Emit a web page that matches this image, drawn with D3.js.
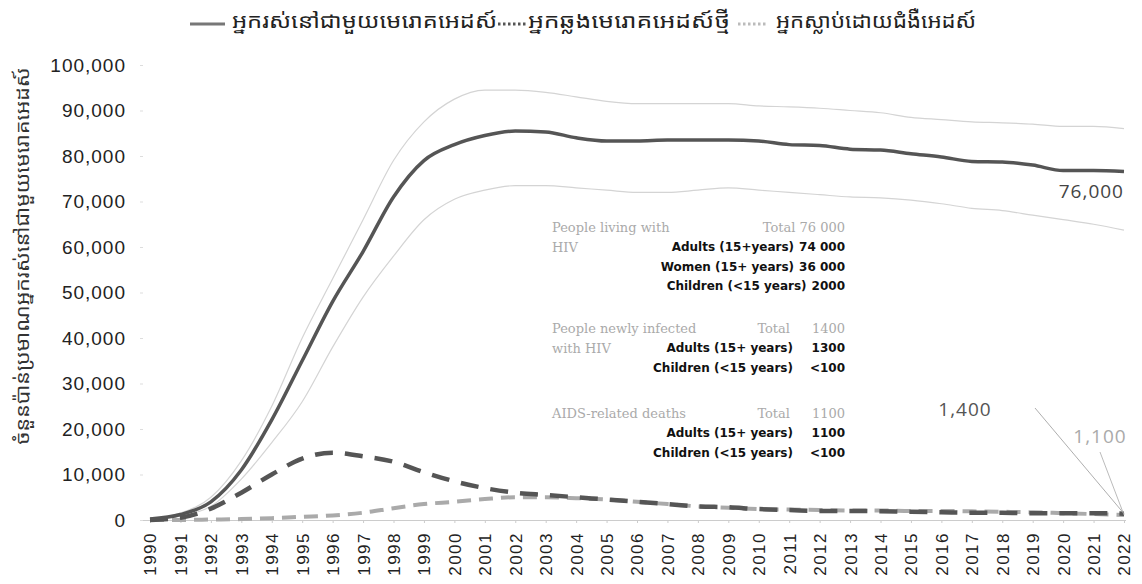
<!DOCTYPE html>
<html>
<head>
<meta charset="utf-8">
<script src="https://cdn.jsdelivr.net/npm/d3@7"></script>
<style>
body { margin: 0; background: #fff; }
svg { font-family: "Open Sans", "Noto Sans", sans-serif; }
.khmer { font-family: "Noto Sans Khmer", "Khmer OS", "Noto Sans", sans-serif; }
.head { font-family: "DejaVu Serif", serif; font-size: 13px; fill: #aaa; }
.row { font-family: "DejaVu Sans", sans-serif; font-size: 12px; font-weight: bold; fill: #111; }
</style>
</head>
<body>
<svg id="chart" width="1142" height="584"></svg>
<script>
// data
var years = d3.range(1990, 2023);

var living = [200, 1200, 4000, 11000, 22000, 35000, 48000, 59000, 71000, 79000,
  82500, 84500, 85500, 85300, 84000, 83300, 83300, 83500, 83500, 83500,
  83300, 82500, 82300, 81500, 81300, 80500, 79800, 78800, 78700, 78000,
  76800, 76800, 76600];
var livingHigh = [300, 1500, 5000, 13000, 25000, 40000, 53000, 66000, 79000, 87500,
  92500, 94500, 94500, 94000, 93000, 92000, 91500, 91500, 91500, 91500,
  91000, 90800, 90500, 90000, 89500, 88500, 88000, 87500, 87300, 87000,
  86500, 86500, 86000];
var livingLow = [100, 900, 3000, 9000, 17000, 26000, 38000, 49000, 58000, 66000,
  70500, 72500, 73500, 73500, 73000, 72500, 72000, 72000, 72500, 73000,
  72500, 72000, 71500, 71000, 70800, 70300, 69500, 68500, 68000, 67000,
  66000, 65000, 63700];
var newInfections = [0, 500, 2500, 6000, 10000, 13500, 14800, 14000, 12800, 10500,
  8500, 7000, 6000, 5500, 5000, 4500, 4000, 3500, 3000, 2800,
  2400, 2200, 2000, 2000, 1900, 1800, 1700, 1600, 1600, 1500,
  1500, 1500, 1400];
var deaths = [0, 0, 100, 200, 400, 700, 1000, 1600, 2600, 3500,
  4000, 4600, 5000, 5000, 4800, 4500, 4000, 3500, 3000, 2700,
  2400, 2300, 2200, 2100, 2100, 2000, 2000, 1900, 1800, 1700,
  1500, 1300, 1100];

var yTicks = [0, 10000, 20000, 30000, 40000, 50000, 60000, 70000, 80000, 90000, 100000];
var legendLabels = ["អ្នករស់នៅជាមួយមេរោគអេដស៍", "អ្នកឆ្លងមេរោគអេដស៍ថ្មី", "អ្នកស្លាប់ដោយជំងឺអេដស៍"];
var yTitle = "ចំនួនប៉ាន់ប្រមាណអ្នករស់នៅជាមួយមេរោគអេដស៍";

var noteHeads = [["People living with", "HIV"], ["People newly infected", "with HIV"], ["AIDS-related deaths"]];
var noteTotals = [["", "Total 76 000"], ["Total", "1400"], ["Total", "1100"]];
var noteRows = [
  [["Adults (15+years)", "74 000"], ["Women (15+ years)", "36 000"], ["Children (<15 years)", "2000"]],
  [["Adults (15+ years)", "1300"], ["Children (<15 years)", "<100"]],
  [["Adults (15+ years)", "1100"], ["Children (<15 years)", "<100"]]
];

var svg = d3.select("#chart");

var x = d3.scalePoint().domain(years).range([150, 1124]);
var y = d3.scaleLinear().domain([0, 100000]).range([520, 65]);

// y axis
var yAxis = svg.append("g")
  .attr("transform", "translate(143,0)")
  .call(d3.axisLeft(y).tickValues(yTicks).tickFormat(d3.format(",")).tickSize(3).tickPadding(14));
yAxis.select(".domain").remove();
yAxis.selectAll("line").attr("stroke", "#ddd");
yAxis.selectAll("text")
  .attr("fill", "#222")
  .style("font-size", "19px")
  .style("font-weight", "500")
  .style("letter-spacing", "1px");

// x axis
var xAxis = svg.append("g")
  .attr("transform", "translate(0,520)")
  .call(d3.axisBottom(x).tickSize(3).tickPadding(4));
xAxis.select(".domain").attr("stroke", "#ccc").attr("d", "M143,0.5H1126");
xAxis.selectAll("line").attr("stroke", "#ccc");
xAxis.selectAll("text")
  .attr("fill", "#222")
  .style("font-size", "17px")
  .style("font-weight", "500")
  .style("letter-spacing", "1.5px")
  .attr("transform", "rotate(-90)")
  .attr("text-anchor", "end")
  .attr("dy", "0.35em")
  .attr("x", -12)
  .attr("y", 0);

var line = d3.line()
  .x(function(d, i) { return x(years[i]); })
  .y(function(d) { return y(d); })
  .curve(d3.curveMonotoneX);

// uncertainty bounds
[livingHigh, livingLow].forEach(function(s) {
  svg.append("path").datum(s)
    .attr("d", line).attr("fill", "none")
    .attr("stroke", "#d4d4d4").attr("stroke-width", 1.2);
});

svg.append("path").datum(deaths)
  .attr("d", line).attr("fill", "none")
  .attr("stroke", "#aaa").attr("stroke-width", 4)
  .attr("stroke-dasharray", "14 8");

svg.append("path").datum(newInfections)
  .attr("d", line).attr("fill", "none")
  .attr("stroke", "#555").attr("stroke-width", 4.5)
  .attr("stroke-dasharray", "18 12");

svg.append("path").datum(living)
  .attr("d", line).attr("fill", "none")
  .attr("stroke", "#555").attr("stroke-width", 3.5);

// end labels
var lastX = x(2022);
svg.append("text").attr("x", 1124).attr("y", 198)
  .attr("text-anchor", "end").attr("fill", "#444")
  .style("font-size", "19px").style("font-weight", "500").style("letter-spacing", "1px")
  .text(d3.format(",")(76000));

svg.append("line").attr("x1", 1035).attr("y1", 408)
  .attr("x2", lastX).attr("y2", y(newInfections[32]))
  .attr("stroke", "#999").attr("stroke-width", 0.8);
svg.append("text").attr("x", 965).attr("y", 416)
  .attr("text-anchor", "middle").attr("fill", "#555")
  .style("font-size", "19px").style("font-weight", "500").style("letter-spacing", "1px")
  .text(d3.format(",")(1400));

svg.append("line").attr("x1", 1100).attr("y1", 452)
  .attr("x2", lastX).attr("y2", y(deaths[32]))
  .attr("stroke", "#aaa").attr("stroke-width", 0.8);
svg.append("text").attr("x", 1100).attr("y", 443)
  .attr("text-anchor", "middle").attr("fill", "#aaa")
  .style("font-size", "19px").style("letter-spacing", "1px")
  .text(d3.format(",")(1100));

// notes box
var noteTop = [227, 328, 413];
var headX = 552, rightEdge = 845, labelEnd = 793, totalEnd = 790;
noteHeads.forEach(function(h, k) {
  h.forEach(function(t, j) {
    svg.append("text").attr("class", "head")
      .attr("x", headX).attr("y", noteTop[k] + j * 20)
      .attr("dy", "0.35em").text(t);
  });
  svg.append("text").attr("class", "head")
    .attr("x", totalEnd).attr("y", noteTop[k])
    .attr("dy", "0.35em").attr("text-anchor", "end")
    .text(noteTotals[k][0]);
  svg.append("text").attr("class", "head")
    .attr("x", rightEdge).attr("y", noteTop[k])
    .attr("dy", "0.35em").attr("text-anchor", "end")
    .text(noteTotals[k][1]);
  noteRows[k].forEach(function(r, j) {
    var ty = noteTop[k] + 20 + j * 19.5;
    var v = svg.append("text").attr("class", "row")
      .attr("x", rightEdge).attr("y", ty)
      .attr("dy", "0.35em").attr("text-anchor", "end")
      .text(r[1]);
    var lx = k === 0 ? rightEdge - v.node().getComputedTextLength() - 5 : labelEnd;
    svg.append("text").attr("class", "row")
      .attr("x", lx).attr("y", ty)
      .attr("dy", "0.35em").attr("text-anchor", "end")
      .text(r[0]);
  });
});

// y title
svg.append("text").attr("class", "khmer")
  .attr("transform", "translate(22,256) rotate(-90)")
  .attr("text-anchor", "middle").attr("dy", "0.35em")
  .attr("fill", "#333").style("font-size", "19px")
  .attr("textLength", 377).attr("lengthAdjust", "spacingAndGlyphs")
  .text(yTitle);

// legend
var legX = [[190, 225, 232], [498, 526, 528], [738, 766, 776]];
var legW = [265, 202, 200];
var legStyle = [
  { stroke: "#777", width: 3, dash: null },
  { stroke: "#555", width: 3, dash: "2.5 2.5" },
  { stroke: "#bbb", width: 3, dash: "2.5 2.5" }
];
legendLabels.forEach(function(t, i) {
  svg.append("line").attr("x1", legX[i][0]).attr("x2", legX[i][1])
    .attr("y1", 24).attr("y2", 24)
    .attr("stroke", legStyle[i].stroke).attr("stroke-width", legStyle[i].width)
    .attr("stroke-dasharray", legStyle[i].dash);
  svg.append("text").attr("class", "khmer")
    .attr("x", legX[i][2]).attr("y", 21).attr("dy", "0.35em")
    .attr("fill", "#222").style("font-size", "20px")
    .attr("textLength", legW[i]).attr("lengthAdjust", "spacingAndGlyphs")
    .text(t);
});
</script>
</body>
</html>
